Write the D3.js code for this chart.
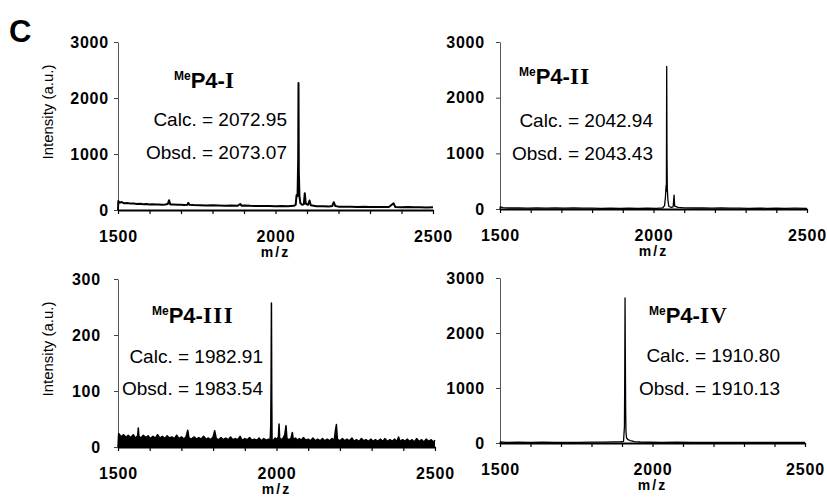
<!DOCTYPE html>
<html>
<head>
<meta charset="utf-8">
<script src="https://cdn.jsdelivr.net/npm/d3@7"></script>
<style>
body { margin: 0; background: #fff; }
svg { display: block; font-family: "Liberation Sans", Arial, sans-serif; }
</style>
</head>
<body>
<svg id="canvas" width="827" height="499"></svg>
<script>
// ---- data ----
let numerals = ['I', 'II', 'III', 'IV'];
let calcValues = ['2072.95', '2042.94', '1982.91', '1910.80'];
let obsdValues = ['2073.07', '2043.43', '1983.54', '1910.13'];
let yMaxes = [3000, 3000, 300, 3000];
let yTicksBig = [0, 1000, 2000, 3000];
let yTicksSmall = [0, 100, 200, 300];
let xTickLabels = [1500, 2000, 2500];
let xMinorTicks = [1500, 1600, 1700, 1800, 1900, 2000, 2100, 2200, 2300, 2400, 2500];

// [m/z, intensity]
let specI = [[1500,0],[1501,160],[1505,130],[1512,142],[1520,120],[1530,126],[1540,114],[1550,118],[1560,108],[1570,112],
  [1580,104],[1590,108],[1600,100],[1610,104],[1620,97],[1630,100],[1640,94],[1650,99],[1658,108],[1662,175],[1666,100],
  [1675,97],[1690,92],[1700,95],[1710,90],[1720,92],[1723,128],[1727,92],[1740,88],[1760,85],[1780,82],[1800,84],
  [1820,80],[1840,78],[1860,80],[1880,76],[1888,108],[1892,78],[1900,80],[1920,74],[1940,72],[1960,70],[1980,72],
  [2000,68],[2020,70],[2040,68],[2058,74],[2064,90],[2067,270],[2070,250],[2072,900],[2073,2270],[2074,700],[2076,250],
  [2079,120],[2085,92],[2090,105],[2093,300],[2096,115],[2103,92],[2108,170],[2112,86],[2130,68],[2150,65],[2170,62],
  [2180,70],[2185,140],[2190,70],[2200,60],[2220,58],[2240,60],[2260,55],[2280,56],[2300,54],[2320,52],[2340,55],
  [2360,52],[2375,120],[2380,55],[2400,50],[2420,52],[2440,48],[2460,50],[2480,46],[2500,48]];

let specII = [[1500,0],[1501,40],[1510,24],[1530,18],[1560,22],[1590,16],[1620,20],[1650,15],[1680,19],[1710,14],
  [1740,18],[1770,14],[1800,17],[1830,13],[1860,16],[1890,13],[1920,15],[1950,12],[1980,15],[2010,13],[2030,22],
  [2036,60],[2039,220],[2041,420],[2042,320],[2043,2560],[2044,900],[2045,360],[2047,160],[2050,45],[2058,30],
  [2064,40],[2067,250],[2069,50],[2080,28],[2100,22],[2130,18],[2160,20],[2190,15],[2220,18],[2250,14],[2280,17],
  [2310,13],[2340,16],[2370,12],[2400,15],[2430,12],[2460,14],[2500,12]];

let specIII = [[1500,0],[1502,24],[1510,18],[1518,22],[1525,17],[1532,21],[1540,17],[1548,22],[1555,16],[1562,20],
  [1564,34],[1566,19],[1572,16],[1580,21],[1588,17],[1595,20],[1602,15],[1610,19],[1618,16],[1625,22],[1632,16],
  [1640,19],[1648,15],[1655,20],[1662,16],[1670,18],[1678,15],[1685,21],[1692,15],[1700,18],[1708,14],[1715,19],
  [1720,30],[1724,16],[1732,14],[1740,18],[1748,14],[1755,17],[1762,14],[1770,19],[1778,14],[1785,16],[1792,13],
  [1800,18],[1805,29],[1810,15],[1818,13],[1825,17],[1832,13],[1840,16],[1848,13],[1855,18],[1862,13],[1870,15],
  [1878,13],[1885,19],[1892,12],[1900,15],[1908,13],[1915,17],[1922,12],[1930,14],[1938,12],[1945,16],[1952,11],
  [1960,15],[1968,12],[1975,14],[1980,12],[1982,40],[1983,120],[1984,257],[1985,90],[1986,10],[1988,3],[1990,12],
  [1996,16],[2000,13],[2006,18],[2008,41],[2010,16],[2016,13],[2022,17],[2026,22],[2030,38],[2033,15],[2040,13],
  [2046,16],[2050,26],[2053,13],[2060,16],[2066,12],[2072,15],[2078,12],[2085,17],[2092,12],[2100,14],[2108,11],
  [2115,16],[2122,11],[2130,14],[2138,11],[2145,15],[2152,11],[2160,14],[2168,11],[2175,15],[2182,12],[2186,30],
  [2189,40],[2192,14],[2200,11],[2208,15],[2215,11],[2222,14],[2230,11],[2238,16],[2245,10],[2252,13],[2260,10],
  [2268,15],[2275,11],[2282,13],[2290,10],[2298,14],[2305,10],[2312,13],[2320,10],[2328,14],[2335,10],[2342,15],
  [2350,10],[2358,13],[2365,10],[2372,14],[2380,10],[2385,18],[2390,10],[2398,13],[2405,10],[2412,14],[2420,10],
  [2428,13],[2435,9],[2442,15],[2450,10],[2458,13],[2465,9],[2472,14],[2480,10],[2488,13],[2495,9],[2500,12]];

let specIV = [[1500,0],[1501,22],[1520,12],[1560,15],[1600,11],[1640,14],[1680,11],[1720,13],[1760,12],[1800,15],
  [1840,16],[1870,20],[1895,22],[1905,28],[1908,300],[1909,1200],[1910,2640],[1911,1500],[1912,600],[1913,200],
  [1915,90],[1920,60],[1926,45],[1932,38],[1940,25],[1960,18],[1990,14],[2030,12],[2080,14],[2130,11],[2180,13],
  [2230,10],[2280,12],[2330,10],[2380,12],[2430,10],[2500,11]];

let spectra = [specI, specII, specIII, specIV];

// ---- layout ----
let boxes = [
  {left: 118, right: 433, top: 42,  bottom: 210, lab: 9,  yLabel: true,  title: [174, 88],  calc: [287, 126], obsd: [287, 159], lw: 2.0},
  {left: 500, right: 807, top: 42,  bottom: 209, lab: 15, yLabel: false, title: [519, 84],  calc: [653, 127], obsd: [653, 160], lw: 1.3},
  {left: 118, right: 435, top: 279, bottom: 447, lab: 17, yLabel: true,  title: [152, 323], calc: [263, 363], obsd: [263, 395], lw: 1.5},
  {left: 500, right: 805, top: 278, bottom: 443, lab: 15, yLabel: false, title: [649, 323], calc: [780, 362], obsd: [780, 395], lw: 1.3}
];

let svg = d3.select('#canvas');

svg.append('text')
  .attr('x', 9)
  .attr('y', 42)
  .attr('font-size', 31)
  .attr('font-weight', 'bold')
  .text('C');

boxes.forEach((b, i) => {
  let x = d3.scaleLinear().domain([1500, 2500]).range([b.left, b.right]);
  let y = d3.scaleLinear().domain([0, yMaxes[i]]).range([b.bottom, b.top]);
  let g = svg.append('g');

  // y axis
  let yAxis = g.append('g')
    .attr('transform', 'translate(' + b.left + ',0)')
    .call(d3.axisLeft(y)
      .tickValues(yMaxes[i] === 300 ? yTicksSmall : yTicksBig)
      .tickFormat(d3.format('d'))
      .tickSize(4)
      .tickSizeOuter(0)
      .tickPadding(b.lab - 4));
  yAxis.select('.domain').attr('stroke', '#555').attr('stroke-width', 1);
  yAxis.selectAll('.tick line').attr('stroke', '#444');
  yAxis.selectAll('.tick text')
    .attr('font-family', '"Liberation Sans", Arial, sans-serif')
    .attr('font-size', 16)
    .attr('font-weight', 'bold')
    .attr('letter-spacing', 0.8)
    .attr('fill', '#000');

  // x axis with minor ticks
  let xAxis = g.append('g')
    .attr('transform', 'translate(0,' + b.bottom + ')')
    .call(d3.axisBottom(x)
      .tickValues(xMinorTicks)
      .tickSize(4)
      .tickSizeOuter(0)
      .tickPadding(17)
      .tickFormat(d => xTickLabels.includes(d) ? d : ''));
  xAxis.select('.domain').attr('stroke', '#000').attr('stroke-width', 2);
  xAxis.selectAll('.tick line').attr('stroke', '#000').attr('stroke-width', 1.2);
  xAxis.selectAll('.tick text')
    .attr('font-family', '"Liberation Sans", Arial, sans-serif')
    .attr('font-size', 16)
    .attr('font-weight', 'bold')
    .attr('letter-spacing', 0.8)
    .attr('fill', '#000');

  g.append('text')
    .attr('x', x(2000))
    .attr('y', b.bottom + 47)
    .attr('text-anchor', 'middle')
    .attr('font-size', 14)
    .attr('font-weight', 'bold')
    .attr('letter-spacing', 2)
    .text('m/z');

  if (b.yLabel) {
    g.append('text')
      .attr('transform', 'translate(' + 53 + ',' + ((b.top + b.bottom) / 2 - 14) + ') rotate(-90)')
      .attr('text-anchor', 'middle')
      .attr('font-size', 15)
      .text('Intensity (a.u.)');
  }

  // spectrum
  let data = spectra[i];
  if (i === 2) {
    g.append('path')
      .datum(data)
      .attr('fill', '#000')
      .attr('d', d3.area().x(d => x(d[0])).y0(y(0)).y1(d => y(d[1])));
  }
  g.append('path')
    .datum(data)
    .attr('fill', 'none')
    .attr('stroke', '#000')
    .attr('stroke-width', b.lw)
    .attr('stroke-linejoin', 'round')
    .attr('d', d3.line().x(d => x(d[0])).y(d => y(d[1])));

  // labels
  let t = g.append('text')
    .attr('x', b.title[0])
    .attr('y', b.title[1])
    .attr('font-weight', 'bold');
  t.append('tspan').attr('font-size', 12).attr('dy', -8).text('Me');
  t.append('tspan').attr('font-size', 22).attr('dy', 8).text('P4-');
  t.append('tspan')
    .attr('font-family', '"Liberation Serif", "Times New Roman", serif')
    .attr('font-size', 23)
    .attr('letter-spacing', 1.5)
    .text(numerals[i]);

  g.append('text')
    .attr('x', b.calc[0])
    .attr('y', b.calc[1])
    .attr('text-anchor', 'end')
    .attr('font-size', 19)
    .text('Calc. = ' + calcValues[i]);
  g.append('text')
    .attr('x', b.obsd[0])
    .attr('y', b.obsd[1])
    .attr('text-anchor', 'end')
    .attr('font-size', 19)
    .text('Obsd. = ' + obsdValues[i]);
});
</script>
</body>
</html>
